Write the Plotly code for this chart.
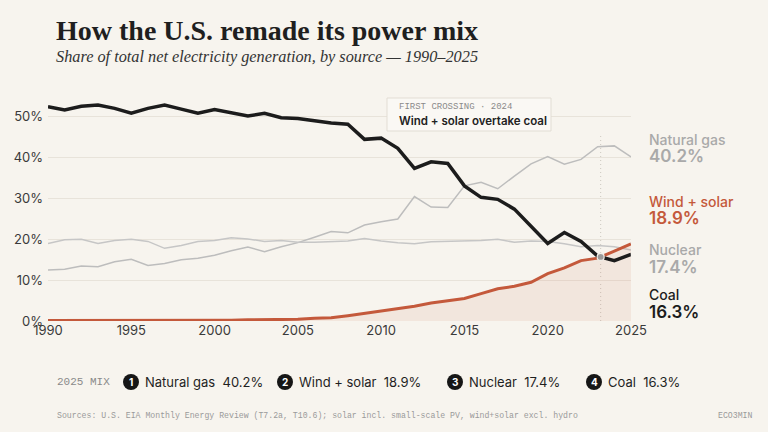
import numpy as np
import plotly.graph_objects as go

# ---------------- data ----------------
years = list(range(1990, 2026))
coal = [52.5, 51.7, 52.6, 52.9, 52.1, 50.9, 52.1, 52.9, 51.9, 50.9, 51.8, 51.1,
        50.2, 50.9, 49.8, 49.6, 49.0, 48.5, 48.2, 44.5, 44.8, 42.3, 37.4, 39.0,
        38.6, 33.1, 30.3, 29.8, 27.4, 23.1, 19.0, 21.7, 19.5, 15.9, 14.8, 16.3]
wind_solar = [0.1, 0.1, 0.1, 0.1, 0.1, 0.1, 0.1, 0.1, 0.1, 0.1, 0.2, 0.2,
              0.3, 0.3, 0.4, 0.4, 0.7, 0.8, 1.3, 1.9, 2.4, 3.0, 3.6, 4.4,
              5.0, 5.5, 6.7, 7.9, 8.5, 9.5, 11.6, 13.0, 14.8, 15.4, 17.1, 18.9]
natural_gas = [12.5, 12.7, 13.5, 13.3, 14.5, 15.1, 13.6, 14.1, 15.0, 15.4, 16.1, 17.2,
               18.1, 17.0, 18.2, 19.2, 20.5, 21.9, 21.6, 23.5, 24.3, 25.0, 30.5, 27.9,
               27.8, 33.1, 34.0, 32.4, 35.5, 38.5, 40.3, 38.4, 39.6, 42.7, 42.9, 40.2]
nuclear = [19.0, 19.9, 20.0, 19.0, 19.7, 20.0, 19.5, 17.8, 18.5, 19.5, 19.7, 20.4,
           20.1, 19.5, 19.7, 19.3, 19.3, 19.4, 19.6, 20.2, 19.6, 19.2, 18.9, 19.4,
           19.5, 19.5, 19.7, 20.0, 19.3, 19.6, 19.5, 18.9, 18.2, 18.5, 18.2, 17.4]

series_names = ["Natural gas", "Wind + solar", "Nuclear", "Coal"]
final_labels = ["40.2%", "18.9%", "17.4%", "16.3%"]
x_ticks = [1990, 1995, 2000, 2005, 2010, 2015, 2020, 2025]
y_ticks = [0, 10, 20, 30, 40, 50]
y_tick_labels = ["0%", "10%", "20%", "30%", "40%", "50%"]

# ---------------- style / layout ----------------
BG = "#f7f4ee"
COAL_C = "#1c1c1c"
WS_C = "#c4593b"
GREY_C = "#bdbdbd"
LABEL_GREY = "#a9a9a9"
SANS = "Inter"
SERIF = "Liberation Serif"
MONO = "Liberation Mono"

W, H = 768, 432
ML, MR, MT, MB = 48, 137, 92, 111
PW, PH = W - ML - MR, H - MT - MB


def px(x):
    return (x - ML) / PW


def py(y):
    return (H - MB - y) / PH


fig = go.Figure()

# grey context lines
fig.add_trace(go.Scatter(x=years, y=natural_gas, mode="lines",
                         line=dict(color=GREY_C, width=1.5), hoverinfo="skip"))
fig.add_trace(go.Scatter(x=years, y=nuclear, mode="lines",
                         line=dict(color="#c6c6c6", width=1.5), hoverinfo="skip"))
# wind + solar with area
fig.add_trace(go.Scatter(x=years, y=wind_solar, mode="lines", fill="tozeroy",
                         fillcolor="rgba(196,89,59,0.09)",
                         line=dict(color=WS_C, width=3), hoverinfo="skip"))
# coal
fig.add_trace(go.Scatter(x=years, y=coal, mode="lines",
                         line=dict(color=COAL_C, width=3.5), hoverinfo="skip"))

# crossing point computed from the data
ws = np.array(wind_solar)
cl = np.array(coal)
diff = cl - ws
idx = int(np.where((diff[:-1] > 0) & (diff[1:] <= 0))[0][0])
t = diff[idx] / (diff[idx] - diff[idx + 1])
cross_x = years[idx] + t
cross_y = ws[idx] + t * (ws[idx + 1] - ws[idx])

fig.add_shape(type="line", xref="x", yref="y", x0=cross_x, x1=cross_x, y0=0, y1=46,
              line=dict(color="#cdc8bf", width=1, dash="1px,3px"), layer="below")
fig.add_trace(go.Scatter(x=[cross_x], y=[cross_y], mode="markers",
                         marker=dict(size=7, color="#9a9a9a",
                                     line=dict(color="#f2efe9", width=1.2)),
                         hoverinfo="skip"))

# end labels with leader lines
finals = [natural_gas[-1], wind_solar[-1], nuclear[-1], coal[-1]]
label_mid = [42.4, 27.3, 15.4, 4.4]  # label block vertical middles (axis units)
name_colors = [LABEL_GREY, WS_C, LABEL_GREY, COAL_C]
value_colors = [LABEL_GREY, WS_C, LABEL_GREY, COAL_C]
for name, val, lab, ym, nc, vc in zip(series_names, finals, final_labels, label_mid,
                                      name_colors, value_colors):
    fig.add_shape(type="line", xref="x", yref="y", x0=years[-1], y0=val,
                  x1=years[-1] + 0.68, y1=ym, line=dict(color="#bcbcbc", width=1))
    fig.add_annotation(xref="paper", yref="y", x=px(647), y=ym, yshift=8.5,
                       xanchor="left", yanchor="middle", showarrow=False,
                       text=name, font=dict(family=SANS, size=14, color=nc, weight=500))
    fig.add_annotation(xref="paper", yref="y", x=px(647), y=ym, yshift=-8.5,
                       xanchor="left", yanchor="middle", showarrow=False,
                       text=lab, font=dict(family=SANS, size=17, color=vc, weight=600))

# callout box
fig.add_shape(type="rect", xref="paper", yref="paper",
              x0=px(387), x1=px(551), y0=py(131), y1=py(98),
              fillcolor="#faf8f4", line=dict(color="#e2ddd4", width=1))
fig.add_annotation(xref="paper", yref="paper", x=px(397), y=py(106.5),
                   xanchor="left", yanchor="middle", showarrow=False,
                   text="FIRST CROSSING · 2024",
                   font=dict(family=MONO, size=9, color="#8a8a8a"))
fig.add_annotation(xref="paper", yref="paper", x=px(397), y=py(121),
                   xanchor="left", yanchor="middle", showarrow=False,
                   text="Wind + solar overtake coal",
                   font=dict(family=SANS, size=11.5, color="#222222", weight=600))

# title / subtitle
fig.add_annotation(xref="paper", yref="paper", x=px(54), y=py(31), xanchor="left",
                   yanchor="middle", showarrow=False,
                   text="<b>How the U.S. remade its power mix</b>",
                   font=dict(family=SERIF, size=28, color="#1f1f1f"))
fig.add_annotation(xref="paper", yref="paper", x=px(54), y=py(57), xanchor="left",
                   yanchor="middle", showarrow=False,
                   text="<i>Share of total net electricity generation, by source — 1990–2025</i>",
                   font=dict(family=SERIF, size=16.3, color="#333333"))

# bottom 2025 mix row
fig.add_annotation(xref="paper", yref="paper", x=px(55), y=py(382), xanchor="left",
                   yanchor="middle", showarrow=False, text="2025 MIX",
                   font=dict(family=MONO, size=11, color="#8a8a8a"))
circle_x = [131, 285, 455, 594]
for i, (cx, name, lab) in enumerate(zip(circle_x, series_names, final_labels)):
    fig.add_shape(type="circle", xref="paper", yref="paper", xsizemode="pixel",
                  ysizemode="pixel", xanchor=px(cx), yanchor=py(382),
                  x0=-8, x1=8, y0=-8, y1=8, fillcolor="#161616", line=dict(width=0))
    fig.add_annotation(xref="paper", yref="paper", x=px(cx), y=py(382),
                       xanchor="center", yanchor="middle", showarrow=False,
                       text=f"<b>{i + 1}</b>",
                       font=dict(family=SANS, size=10, color="#ffffff"))
    fig.add_annotation(xref="paper", yref="paper", x=px(cx + 12), y=py(382),
                       xanchor="left", yanchor="middle", showarrow=False,
                       text=f"{name}  {lab}",
                       font=dict(family=SANS, size=13, color="#1f1f1f"))

# footer
fig.add_annotation(xref="paper", yref="paper", x=px(55), y=py(415), xanchor="left",
                   yanchor="middle", showarrow=False,
                   text="Sources: U.S. EIA Monthly Energy Review (T7.2a, T10.6); solar incl. small-scale PV, wind+solar excl. hydro",
                   font=dict(family=MONO, size=8.2, color="#9a9a9a"))
fig.add_annotation(xref="paper", yref="paper", x=px(754), y=py(415), xanchor="right",
                   yanchor="middle", showarrow=False, text="ECO3MIN",
                   font=dict(family=MONO, size=8.2, color="#9a9a9a"))

fig.update_layout(
    width=W, height=H,
    margin=dict(l=ML, r=MR, t=MT, b=MB),
    paper_bgcolor=BG, plot_bgcolor=BG,
    showlegend=False,
    font=dict(family=SANS, size=13, color="#3a3a3a"),
    xaxis=dict(range=[1990, 2025], tickvals=x_ticks, showgrid=False, zeroline=False,
               showline=False, ticks="", tickfont=dict(size=13, color="#3a3a3a")),
    yaxis=dict(range=[0, 56.1], tickvals=y_ticks, ticktext=y_tick_labels,
               showgrid=True, gridcolor="#e8e3da", gridwidth=1, zeroline=False,
               showline=False, ticks="", ticklabelstandoff=4,
               tickfont=dict(size=13, color="#3a3a3a")),
)

fig.write_html("out.html", config={"displayModeBar": False},
               post_script="document.body.style.margin='0';document.body.style.background='%s';" % BG)
